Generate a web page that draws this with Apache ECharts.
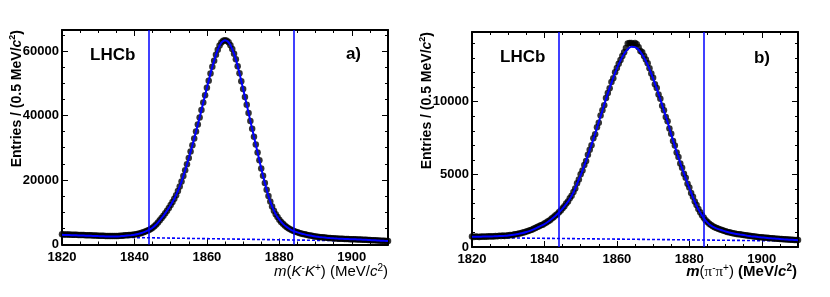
<!DOCTYPE html>
<html>
<head>
<meta charset="utf-8">
<script src="https://cdn.jsdelivr.net/npm/echarts@6/dist/echarts.min.js"></script>
<style>html,body{margin:0;padding:0;background:#fff}#c{width:830px;height:297px}</style>
</head>
<body>
<div id="c"></div>
<script>
// ---- binning ----
const massMin = 1820, massMax = 1910, binWidth = 0.5, fitStep = 1;
const cutLines = [1844, 1884];
const xMajorTicks = 20, xMinorTicks = 5;

// ---- panel a: D0 -> K- K+ ----
const dataA = [
  3150,3130,3110,3090,3070,3050,3030,3010,2990,2970,2950,2930,2910,2890,2870,2850,2830,2810,2790,2770,
  2750,2730,2710,2690,2660,2640,2620,2610,2610,2620,2640,2670,2700,2740,2780,2830,2880,2930,2980,3030,
  3100,3190,3300,3440,3610,3800,4020,4250,4500,4820,5200,5650,6180,6800,7500,8200,8900,9700,10500,11350,
  12250,13200,14200,15300,16600,18000,19500,21200,23000,24900,26800,28800,30800,32900,35000,37200,39400,41700,44000,46300,
  48600,50800,53000,55100,57000,58800,60400,61700,62600,63200,63350,63200,62700,61800,60600,59100,57400,55300,53100,50600,
  48200,45700,43300,40800,38300,35900,33400,31000,28500,26100,23600,21300,19100,17000,15000,13300,11800,10500,9400,8500,
  7700,7000,6400,5900,5450,5050,4700,4400,4150,3950,3760,3590,3430,3280,3140,3010,2890,2780,2680,2590,
  2500,2420,2350,2280,2210,2150,2090,2040,1990,1950,1910,1870,1840,1810,1780,1750,1720,1700,1680,1660,
  1640,1620,1600,1580,1560,1530,1500,1470,1440,1410,1380,1350,1320,1290,1260,1230,1200,1170,1140,1110,
  1085
];
const fitA = [
  3000,2960,2920,2880,2840,2800,2760,2720,2680,2640,
  2600,2560,2510,2470,2460,2490,2560,2650,2770,2890,
  3030,3250,3580,4000,4500,5200,6180,7500,8900,10500,
  12250,14200,16600,19500,23000,26800,30800,35000,39400,44000,
  48600,53000,57000,60400,62600,63350,62700,60600,57400,53100,
  48200,43300,38300,33400,28500,23600,19100,15000,11800,9400,
  7700,6400,5450,4700,4150,3760,3430,3140,2890,2680,
  2500,2350,2210,2090,1990,1910,1840,1780,1720,1680,
  1640,1600,1560,1500,1440,1380,1320,1260,1200,1140,
  1085
];
const bkgA = [[1820, 2500], [1910, 950]];
const yMaxA = 66500, yMajorA = 20000, yMinorA = 5000;

// ---- panel b: D0 -> pi- pi+ ----
const dataB = [
  720,690,715,700,690,725,705,730,710,740,720,745,728,760,735,770,750,785,765,800,
  790,830,815,860,870,900,930,955,990,1020,1060,1100,1150,1190,1260,1310,1380,1420,1490,1540,
  1620,1690,1780,1850,1960,2050,2170,2260,2400,2520,2670,2800,2990,3140,3350,3520,3780,4030,4390,4640,
  5000,5260,5650,5920,6350,6700,7000,7480,7760,8250,8560,9060,9420,9750,10260,10600,10920,11350,11620,12030,
  12320,12620,12880,13150,13400,13700,14000,14050,14050,13950,14050,13950,13750,13500,13400,13150,12900,12650,12300,11950,
  11650,11200,10950,10500,10200,9720,9420,8950,8650,8150,7800,7300,6980,6500,6200,5750,5460,5050,4760,4360,
  4090,3720,3460,3130,2890,2620,2400,2180,2010,1850,1720,1600,1510,1420,1360,1300,1250,1210,1170,1120,
  1090,1040,1020,985,950,935,900,880,870,840,830,810,790,770,755,735,720,705,695,675,
  665,650,640,630,615,605,595,585,575,565,555,545,535,525,520,510,505,495,490,480,
  475
];
const fitB = [
  700,705,710,715,720,727,735,745,755,770,
  790,820,860,910,960,1030,1110,1210,1330,1450,
  1580,1740,1930,2140,2370,2640,2950,3310,3750,4350,
  4950,5600,6300,7050,7800,8600,9400,10200,10950,11650,
  12300,12850,13300,13620,13780,13760,13580,13250,12800,12250,
  11600,10900,10150,9380,8600,7750,6930,6150,5420,4720,
  4050,3420,2850,2370,1980,1680,1470,1330,1230,1150,
  1070,1000,945,895,855,820,780,745,715,685,
  660,635,610,590,570,550,530,515,500,485,
  470
];
const bkgB = [[1820, 650], [1910, 410]];
const yMaxB = 14800, yMajorB = 5000, yMinorB = 1000;

// ---- helpers ----
const FONT = '"Liberation Sans", Arial, Helvetica, sans-serif';
const SERIF = '"Liberation Serif", "DejaVu Serif", serif';
const BLUE = '#0000ff';
function pairs(vals, step) { return vals.map((v, i) => [massMin + i * step, v]); }

const xAxes = [], yAxes = [];
function axis(g, isX, pos, min, max, interval, tickLen, showLine, showLabel) {
  return {
    gridIndex: g, type: 'value', position: pos, min: min, max: max, interval: interval,
    splitLine: { show: false },
    axisLine: { show: showLine, onZero: false, lineStyle: { color: '#000', width: 2 } },
    axisTick: { show: true, inside: true, length: tickLen, lineStyle: { color: '#000', width: 1 } },
    axisLabel: {
      show: showLabel, color: '#000', fontFamily: FONT, fontWeight: 'bold', fontSize: 13,
      margin: isX ? 6 : 3, showMaxLabel: false, formatter: v => String(v)
    }
  };
}
function addPanel(g, ymax, yMajor, yMinor) {
  xAxes.push(axis(g, true, 'bottom', massMin, massMax, xMajorTicks, 6, true, true));
  xAxes.push(axis(g, true, 'bottom', massMin, massMax, xMinorTicks, 3, false, false));
  xAxes.push(axis(g, true, 'top', massMin, massMax, xMajorTicks, 6, true, false));
  xAxes.push(axis(g, true, 'top', massMin, massMax, xMinorTicks, 3, false, false));
  yAxes.push(axis(g, false, 'left', 0, ymax, yMajor, 6, true, true));
  yAxes.push(axis(g, false, 'left', 0, ymax, yMinor, 3, false, false));
  yAxes.push(axis(g, false, 'right', 0, ymax, yMajor, 6, true, false));
  yAxes.push(axis(g, false, 'right', 0, ymax, yMinor, 3, false, false));
}
addPanel(0, yMaxA, yMajorA, yMinorA);
addPanel(1, yMaxB, yMajorB, yMinorB);

function panelSeries(g, data, fit, bkg) {
  const ax = { xAxisIndex: 4 * g, yAxisIndex: 4 * g };
  return [
    Object.assign({ type: 'line', data: bkg, showSymbol: false, silent: true, z: 2,
      lineStyle: { color: BLUE, width: 1.6, type: [3, 2] } }, ax),
    Object.assign({ type: 'scatter', data: pairs(data, binWidth), symbol: 'circle', symbolSize: 6.5,
      itemStyle: { color: '#000' }, silent: true, z: 3 }, ax),
    Object.assign({ type: 'line', data: pairs(fit, fitStep), showSymbol: false, silent: true, z: 4,
      smooth: 0.2, lineStyle: { color: BLUE, width: 2 },
      markLine: { silent: true, symbol: 'none', label: { show: false }, animation: false,
        lineStyle: { color: BLUE, width: 1.5, type: 'solid' },
        data: cutLines.map(v => ({ xAxis: v })) } }, ax)
  ];
}

const richA = {
  r: { fontFamily: FONT, fontSize: 15, lineHeight: 18, fill: '#000' },
  i: { fontFamily: FONT, fontSize: 15, fontStyle: 'italic', lineHeight: 18, fill: '#000' },
  s: { fontFamily: FONT, fontSize: 10, lineHeight: 10, verticalAlign: 'top', fill: '#000' }
};
const richB = {
  b: { fontFamily: FONT, fontSize: 15, fontWeight: 'bold', lineHeight: 18, fill: '#000' },
  bi: { fontFamily: FONT, fontSize: 15, fontWeight: 'bold', fontStyle: 'italic', lineHeight: 18, fill: '#000' },
  r: { fontFamily: FONT, fontSize: 15, lineHeight: 18, fill: '#000' },
  p: { fontFamily: SERIF, fontSize: 15, lineHeight: 18, fill: '#000' },
  s: { fontFamily: FONT, fontSize: 10, lineHeight: 10, verticalAlign: 'top', fill: '#000' },
  sb: { fontFamily: FONT, fontSize: 10, fontWeight: 'bold', lineHeight: 10, verticalAlign: 'top', fill: '#000' }
};
const richY = {
  b: { fontFamily: FONT, fontSize: 14, fontWeight: 'bold', lineHeight: 17, fill: '#000' },
  bi: { fontFamily: FONT, fontSize: 14, fontWeight: 'bold', fontStyle: 'italic', lineHeight: 17, fill: '#000' },
  sb: { fontFamily: FONT, fontSize: 9, fontWeight: 'bold', lineHeight: 9, verticalAlign: 'top', fill: '#000' }
};
const yTitle = '{b|Entries / (0.5 MeV/}{bi|c}{sb|2}{b|)}';

function txt(x, y, text, align, extraStyle, el) {
  return Object.assign({ type: 'text', x: x, y: y, silent: true, z: 100,
    style: Object.assign({ text: text, fill: '#000', align: align, verticalAlign: 'middle',
      textAlign: align, textVerticalAlign: 'middle' }, extraStyle) }, el || {});
}
const bigBold = { fontFamily: FONT, fontSize: 17, fontWeight: 'bold' };

const graphics = [
  txt(90, 55, 'LHCb', 'left', bigBold),
  txt(361, 54, 'a)', 'right', bigBold),
  txt(500, 57, 'LHCb', 'left', bigBold),
  txt(770, 58, 'b)', 'right', bigBold),
  txt(388, 272, '{i|m}{r|(}{i|K}{s|-}{i|K}{s|+}{r|) (MeV/}{i|c}{s|2}{r|)}', 'right', { rich: richA }),
  txt(797, 272, '{bi|m}{r|(}{p|π}{s|-}{p|π}{s|+}{r|) }{b|(MeV/}{bi|c}{sb|2}{b|)}', 'right', { rich: richB }),
  txt(17, 30, yTitle, 'right', { rich: richY }, { rotation: Math.PI / 2 }),
  txt(427, 32, yTitle, 'right', { rich: richY }, { rotation: Math.PI / 2 })
];

const chart = echarts.init(document.getElementById('c'), null, { renderer: 'canvas' });
chart.setOption({
  animation: false,
  backgroundColor: '#fff',
  grid: [
    { left: 62, top: 30, width: 326, height: 214.5 },
    { left: 472, top: 32, width: 326, height: 215 }
  ],
  xAxis: xAxes,
  yAxis: yAxes,
  series: panelSeries(0, dataA, fitA, bkgA).concat(panelSeries(1, dataB, fitB, bkgB)),
  graphic: graphics
});
</script>
</body>
</html>
